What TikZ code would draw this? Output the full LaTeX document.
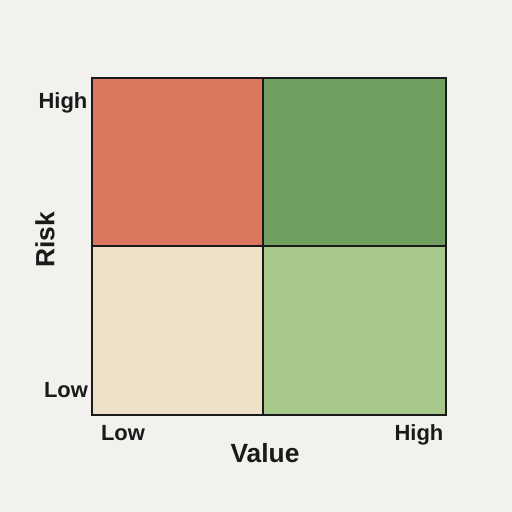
\documentclass[tikz,border=0pt]{standalone}
\usepackage{fontspec}
\setmainfont{Liberation Sans}
\usetikzlibrary{positioning}
\definecolor{bgcol}{HTML}{F3F1ED}
\definecolor{riskred}{HTML}{D9775F}
\definecolor{darkgreen}{HTML}{6FA060}
\definecolor{sandbeige}{HTML}{EFE1C7}
\definecolor{lightgreen}{HTML}{A8C78A}
\definecolor{inkcol}{HTML}{1A1A1A}

\begin{document}
\begin{tikzpicture}[
    x=0.02cm, y=-0.02cm,
    quad/.style={draw=inkcol, line width=0.9pt},
    ticklabel/.style={anchor=base, font=\bfseries\fontsize{12.5}{14}\selectfont, text=inkcol},
    axlabel/.style={font=\bfseries\fontsize{15}{18}\selectfont, text=inkcol}
]
\useasboundingbox[fill=bgcol] (0,0) rectangle (512,512);

% Quadrants
\filldraw[quad, fill=riskred] (92,78) rectangle (263,246);
\filldraw[quad, fill=darkgreen] (263,78) rectangle (446,246);
\filldraw[quad, fill=sandbeige] (92,246) rectangle (263,415);
\filldraw[quad, fill=lightgreen] (263,246) rectangle (446,415);
\draw[draw=inkcol, line width=1.3pt] (92,78) rectangle (446,415);

% Axis ticks
\node[ticklabel] (riskhigh) at (63,108) {High};
\node[ticklabel] (risklow) at (66,397) {Low};
\node[ticklabel] (valuelow) at (123,440) {Low};
\node[ticklabel] (valuehigh) at (419,440) {High};

% Axis names
\node[axlabel, rotate=90] (risk) at (45,240) {Risk};
\node[axlabel, anchor=base] (value) at (265,462) {Value};
\end{tikzpicture}
\end{document}
